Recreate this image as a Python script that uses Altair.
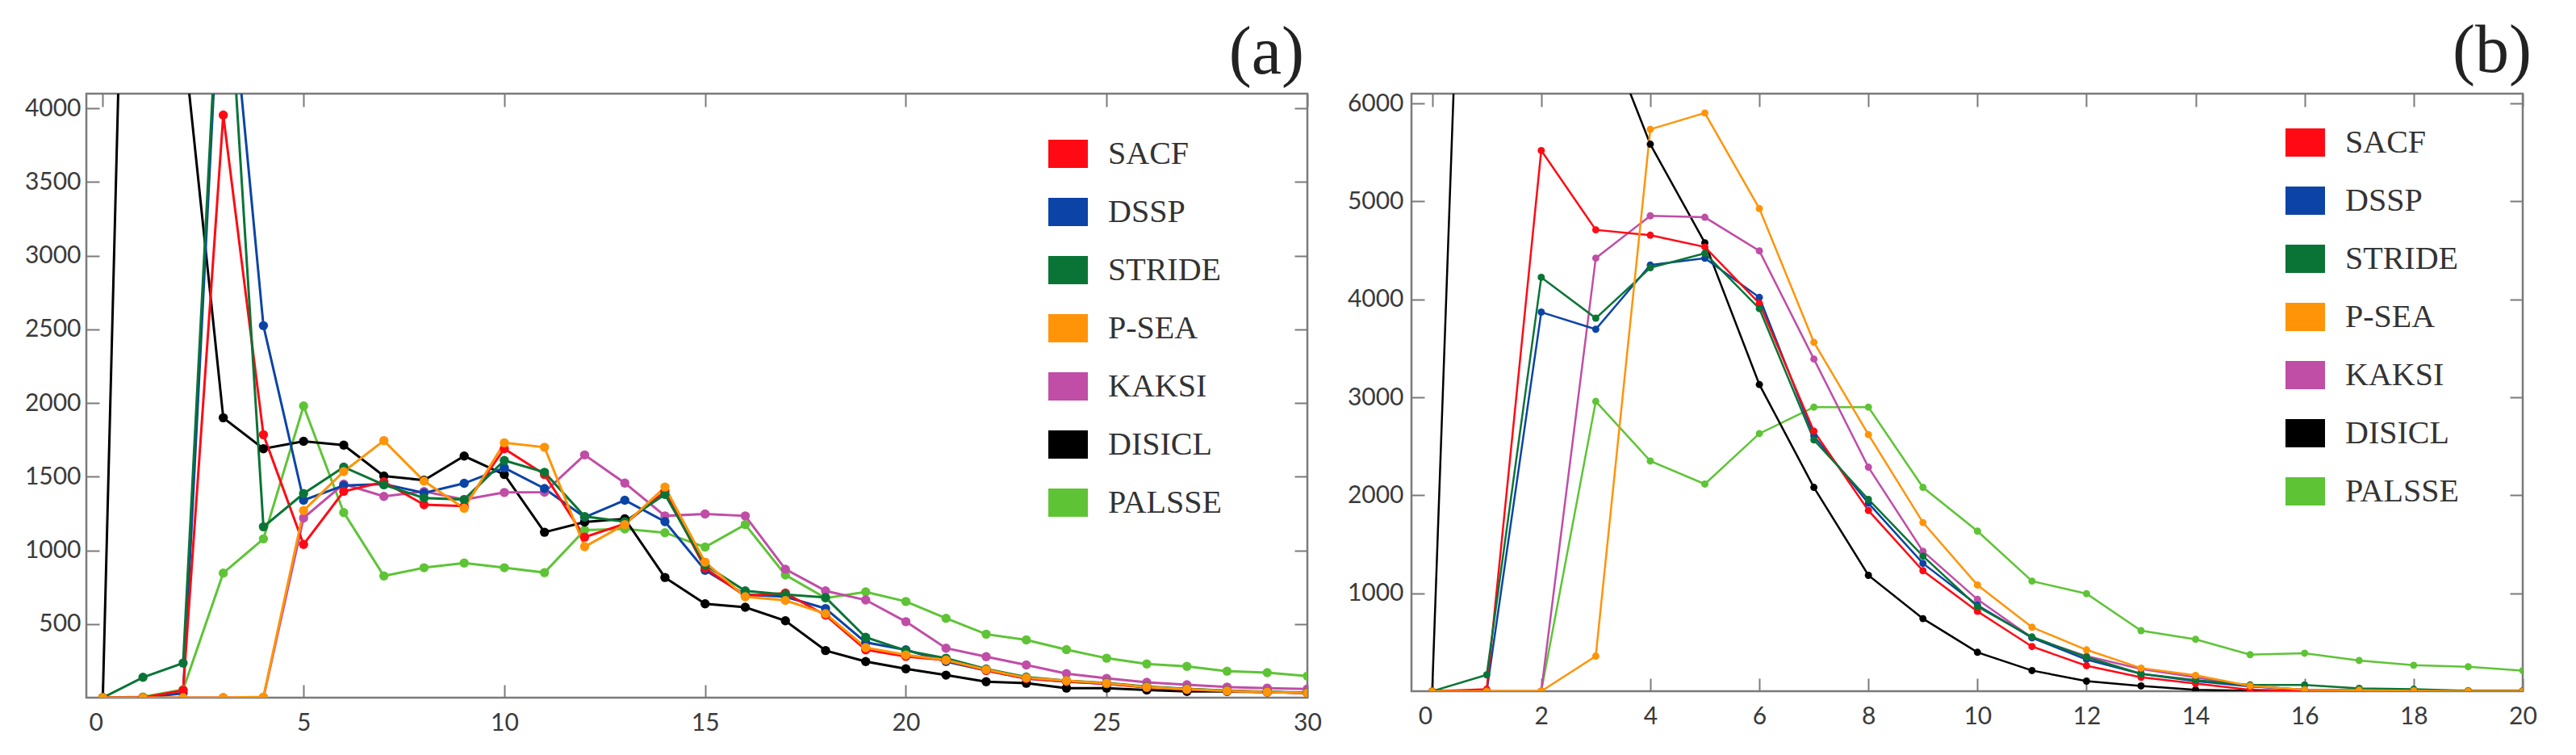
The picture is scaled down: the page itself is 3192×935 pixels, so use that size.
import pandas as pd
import altair as alt

# Methods in legend order, with their colours
METHODS = ["SACF", "DSSP", "STRIDE", "P-SEA", "KAKSI", "DISICL", "PALSSE"]
COLORS = ["#ff0a14", "#0b44a6", "#0a7436", "#ff9408", "#c04da6", "#000000", "#5ec436"]
# Drawing order of the lines (last one on top)
DRAW_ORDER = ["PALSSE", "DISICL", "KAKSI", "DSSP", "SACF", "STRIDE", "P-SEA"]

# Panel (a)
A_X = list(range(31))
A_SACF = [0, 0, 50, 3955, 1785, 1040, 1400, 1465, 1310, 1300, 1690, 1515, 1090, 1180, 1400,
          880, 690, 710, 560, 325, 280, 255, 185, 130, 110, 95, 70, 55, 45, 38, 32]
A_DSSP = [0, 0, 30, 5400, 2525, 1340, 1440, 1450, 1390, 1455, 1560, 1420, 1225, 1340, 1195,
          865, 700, 685, 605, 375, 325, 245, 185, 130, 110, 95, 72, 58, 46, 38, 32]
A_STRIDE = [0, 138, 235, 5500, 1160, 1385, 1565, 1445, 1355, 1345, 1610, 1530, 1230, 1195, 1380,
            900, 725, 700, 680, 410, 320, 268, 195, 140, 115, 100, 75, 60, 48, 40, 34]
A_PSEA = [0, 0, 0, 0, 5, 1270, 1535, 1745, 1470, 1285, 1730, 1700, 1025, 1175, 1430,
          920, 685, 660, 570, 340, 290, 255, 190, 135, 115, 98, 72, 58, 46, 38, 32]
A_KAKSI = [0, 0, 0, 0, 0, 1220, 1450, 1366, 1400, 1345, 1393, 1395, 1648, 1457, 1234,
           1247, 1234, 872, 725, 663, 516, 336, 278, 222, 163, 131, 104, 88, 72, 65, 59]
A_DISICL = [0, 10700, 4500, 1900, 1690, 1740, 1714, 1505, 1476, 1640, 1515, 1123, 1192, 1214, 816,
            637, 614, 522, 320, 245, 196, 153, 108, 98, 65, 65, 52, 42, 42, 39, 33]
A_PALSSE = [0, 5, 55, 846, 1078, 1980, 1257, 826, 882, 914, 882, 849, 1137, 1146, 1120,
            1022, 1175, 833, 676, 718, 653, 539, 431, 392, 326, 268, 229, 212, 180, 170, 147]
A_X_TICKS = [0, 5, 10, 15, 20, 25, 30]
A_Y_TICKS = [500, 1000, 1500, 2000, 2500, 3000, 3500, 4000]

# Panel (b)
B_X = list(range(21))
B_SACF = [0, 20, 5520, 4710, 4655, 4535, 3960, 2655, 1845, 1230, 815,
          456, 260, 142, 79, 15, 5, 0, 0, 0, 0]
B_DSSP = [0, 0, 3870, 3695, 4350, 4420, 4020, 2605, 1920, 1305, 878,
          545, 324, 177, 103, 50, 15, 10, 5, 0, 0]
B_STRIDE = [0, 167, 4225, 3808, 4323, 4470, 3906, 2566, 1958, 1379, 864,
            554, 348, 177, 113, 64, 64, 29, 20, 5, 5]
B_PSEA = [0, 0, 0, 358, 5736, 5903, 4927, 3562, 2620, 1722, 1084,
          653, 422, 236, 162, 54, 15, 10, 5, 0, 0]
B_KAKSI = [0, 0, 0, 4421, 4853, 4838, 4495, 3391, 2287, 1428, 937,
           545, 358, 226, 142, 50, 15, 10, 5, 0, 0]
B_DISICL = [0, 15600, 11000, 7000, 5584, 4578, 3131, 2081, 1183, 741, 397,
            211, 103, 54, 15, 5, 0, 0, 0, 0, 0]
B_PALSSE = [0, 0, 0, 2959, 2350, 2115, 2630, 2900, 2900, 2081, 1634,
            1124, 996, 618, 530, 373, 388, 314, 265, 250, 211]
B_X_TICKS = [0, 2, 4, 6, 8, 10, 12, 14, 16, 18, 20]
B_Y_TICKS = [1000, 2000, 3000, 4000, 5000, 6000]

TICK = 16
FRAME = "#7a7a7a"
LABEL = "#3a3a3a"
RECT = "M-1,-0.714L1,-0.714L1,0.714L-1,0.714Z"


def to_long(x: list, series: dict) -> pd.DataFrame:
    """Reshaping the named series into one long table, in drawing order."""
    frames = [pd.DataFrame({"x": x, "count": series[name], "method": name})
              for name in DRAW_ORDER]
    return pd.concat(frames, ignore_index=True)


def panel(df: pd.DataFrame, label: str, x_domain: list, y_domain: list,
          x_ticks: list, y_ticks: list, width: int, height: int,
          legend_x: float, legend_y: float, title_dx: int, y_pad: int,
          point_size: int, stroke: float) -> alt.LayerChart:
    """
    One framed panel: lines with dots, inward ticks on all four sides
    and the legend sitting inside the plot.
    """
    x_scale = alt.Scale(domain=x_domain, nice=False, zero=False)
    y_scale = alt.Scale(domain=y_domain, nice=False)

    # Lines carry the labelled axes (bottom and left). Their stroke scale
    # takes its domain from the data (sorted), so no legend is merged in:
    lines = (
        alt.Chart(df)
        .mark_line(strokeWidth=stroke, clip=True)
        .encode(
            x=alt.X("x:Q", scale=x_scale, axis=alt.Axis(
                orient="bottom", values=x_ticks, offset=-TICK, labelPadding=16,
                labelFlush=False, labelOverlap=False,
                labelAlign={"condition": {"test": "datum.value === 0", "value": "right"},
                            "value": "center"})),
            y=alt.Y("count:Q", scale=y_scale, axis=alt.Axis(
                orient="left", values=y_ticks, offset=-TICK, labelPadding=y_pad,
                labelOverlap=False, format="d")),
            stroke=alt.Stroke("method:N", sort=METHODS,
                              scale=alt.Scale(range=COLORS), legend=None)))

    # Dots carry the mirrored axes (top and right) and the legend:
    dots = (
        alt.Chart(df)
        .mark_circle(size=point_size, opacity=1, clip=True)
        .encode(
            x=alt.X("x:Q", scale=x_scale, axis=alt.Axis(
                orient="top", values=x_ticks, offset=-TICK, labels=False)),
            y=alt.Y("count:Q", scale=y_scale, axis=alt.Axis(
                orient="right", values=y_ticks, offset=-TICK, labels=False)),
            color=alt.Color("method:N", scale=alt.Scale(domain=METHODS, range=COLORS),
                            legend=alt.Legend(
                orient="none", legendX=legend_x, legendY=legend_y, title=None,
                symbolType=RECT, symbolSize=2401, symbolStrokeWidth=0,
                symbolOpacity=1, labelFont="Liberation Serif", labelFontSize=40,
                labelColor="#333333", labelOffset=25, rowPadding=27, padding=0))))

    return (
        alt.layer(lines, dots)
        .resolve_axis(x="independent", y="independent")
        .properties(
            width=width, height=height,
            title=alt.TitleParams(label, anchor="end", frame="group",
                                  font="Liberation Serif", fontSize=84,
                                  fontWeight="normal", color="#222222",
                                  dx=title_dx, offset=6)))


def main():
    """Building both panels side by side and saving the page."""
    df_a = to_long(A_X, {"SACF": A_SACF, "DSSP": A_DSSP, "STRIDE": A_STRIDE,
                         "P-SEA": A_PSEA, "KAKSI": A_KAKSI, "DISICL": A_DISICL,
                         "PALSSE": A_PALSSE})
    df_b = to_long(B_X, {"SACF": B_SACF, "DSSP": B_DSSP, "STRIDE": B_STRIDE,
                         "P-SEA": B_PSEA, "KAKSI": B_KAKSI, "DISICL": B_DISICL,
                         "PALSSE": B_PALSSE})

    chart_a = panel(df_a, "(a)", [-0.41, 30], [0, 4100], A_X_TICKS, A_Y_TICKS,
                    1513, 748, 1192, 50, -4, 7, 130, 3)
    chart_b = panel(df_b, "(b)", [-0.38, 20], [0, 6100], B_X_TICKS, B_Y_TICKS,
                    1377, 740, 1083, 36, 11, 10, 80, 2.5)

    chart = (
        alt.hconcat(chart_a, chart_b, spacing=29)
        .resolve_scale(color="independent", stroke="independent")
        .resolve_legend(color="independent")
        .properties(padding={"left": 21, "top": 12, "right": 5, "bottom": 5},
                    background="white")
        .configure_view(stroke=FRAME, strokeWidth=2.5)
        .configure_axis(grid=False, domain=False, title=None, tickSize=TICK,
                        tickColor=FRAME, tickWidth=2, labelFont="Lato",
                        labelFontSize=30, labelColor=LABEL))

    chart.save("out.html", embed_options={"renderer": "svg", "actions": False})


if __name__ == "__main__":
    main()
